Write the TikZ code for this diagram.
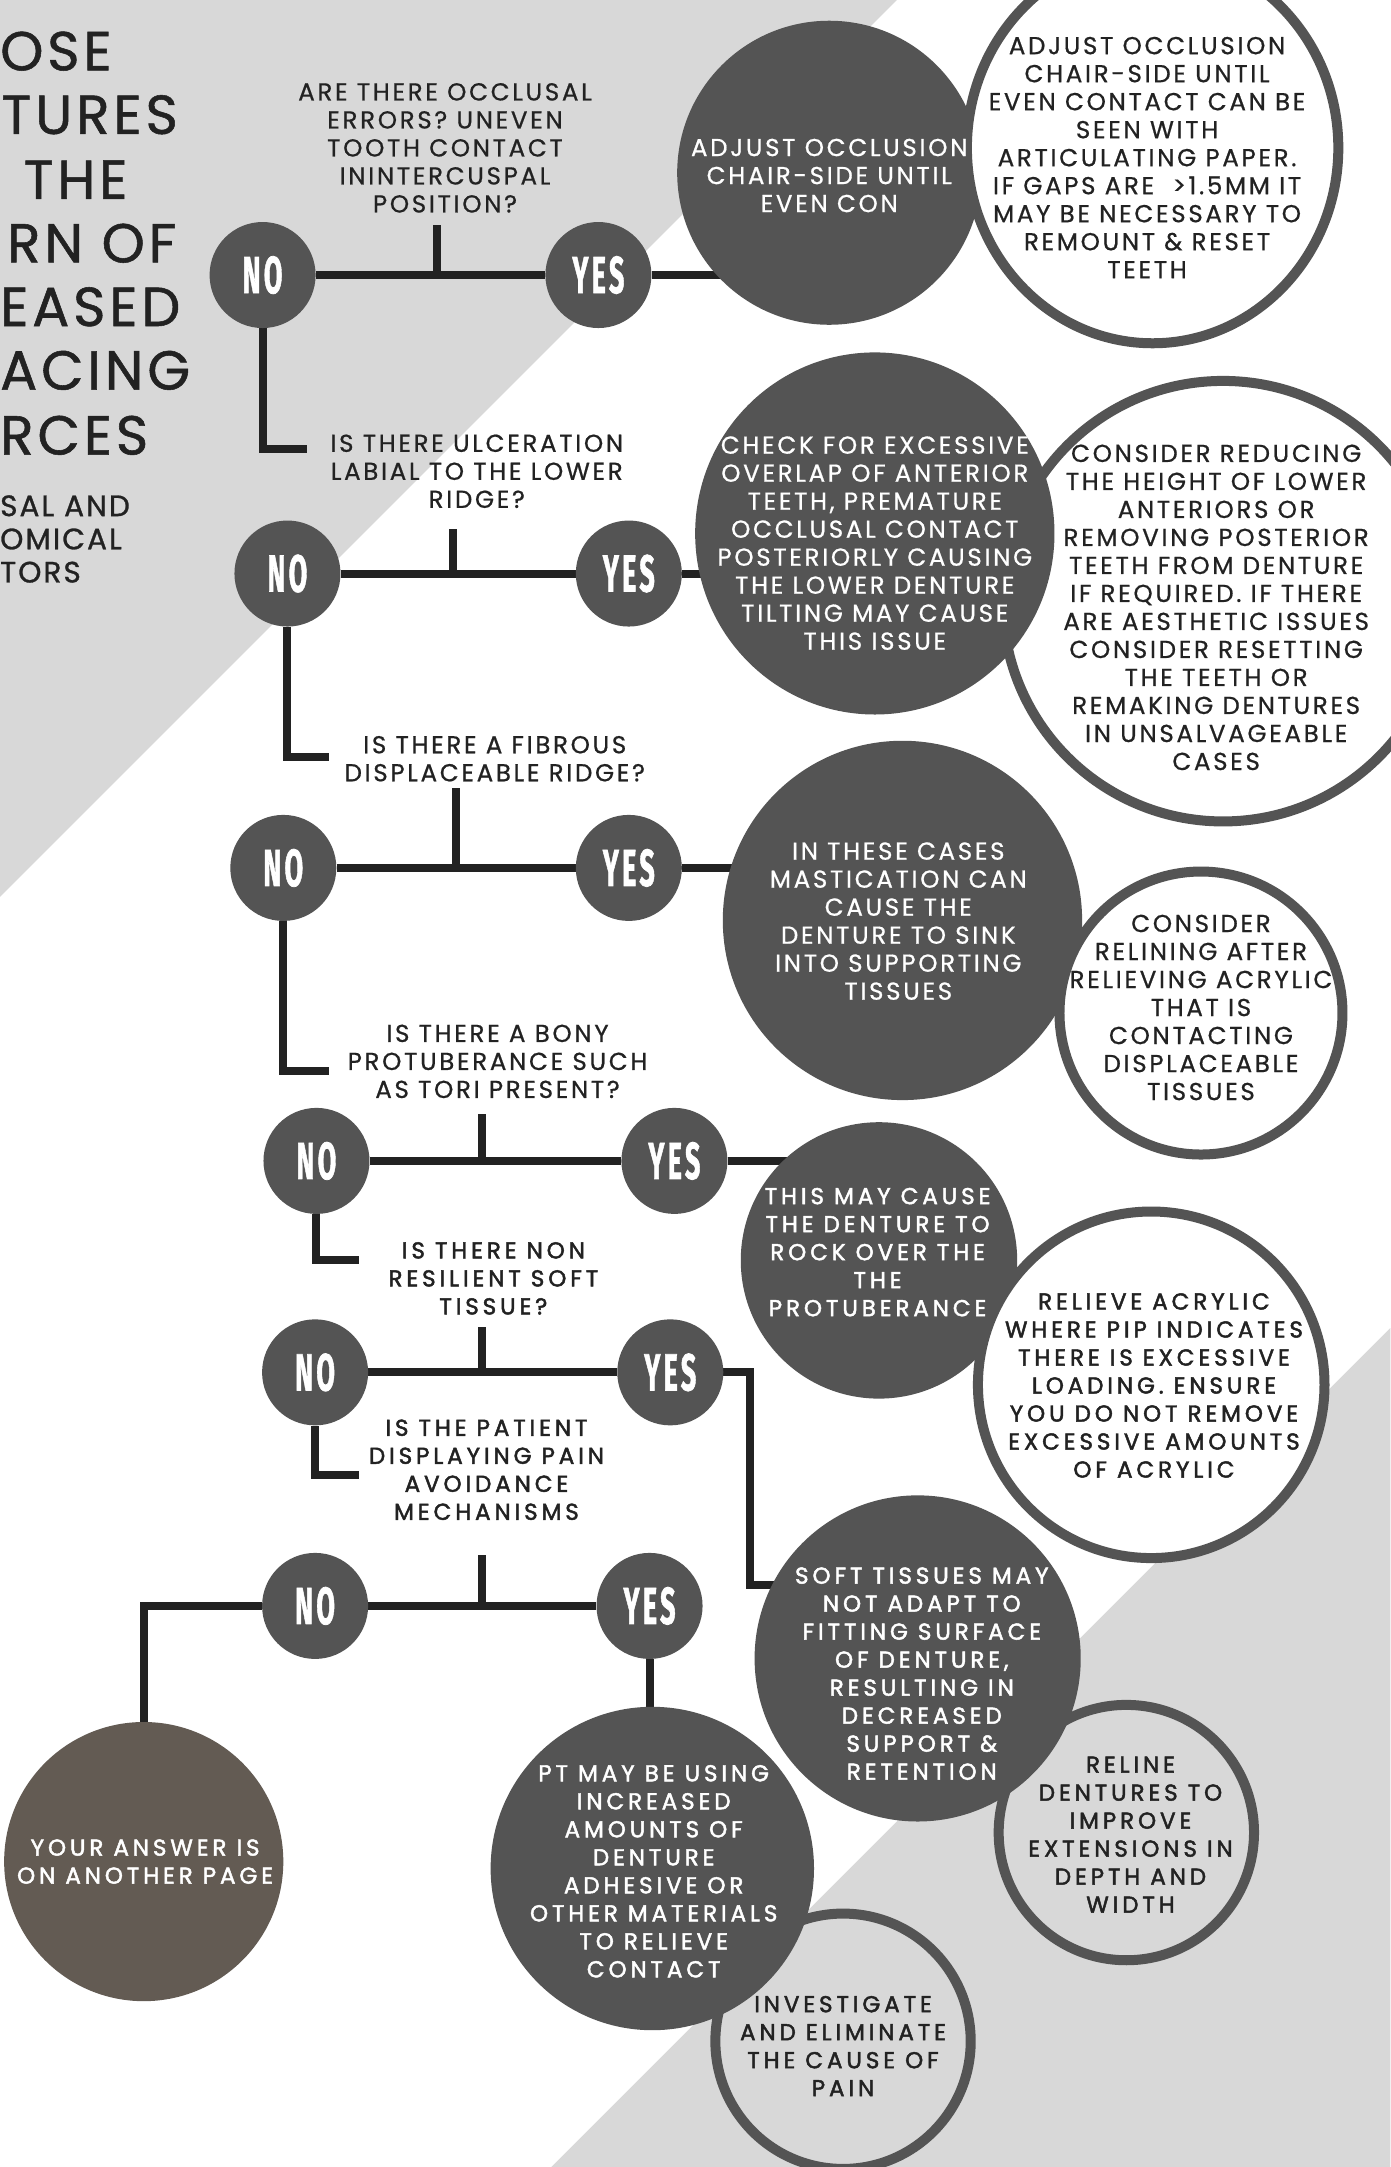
\documentclass[tikz,border=0pt]{standalone}
\usepackage{graphicx}
\usepackage{fontspec}
\setmainfont{Poppins}
\newfontfamily\bodyfont[LetterSpace=11,FakeBold=0.7]{Poppins}
\newfontfamily\heavyfont[LetterSpace=17,FakeBold=2]{Poppins}
\newfontfamily\titlefont[LetterSpace=7,FakeBold=1]{Poppins}
\newfontfamily\choicefont[LetterSpace=12,FakeBold=1.5]{Fira Sans}
\usetikzlibrary{shapes.geometric}
\pgfdeclarelayer{paper}
\pgfdeclarelayer{wires}
\pgfsetlayers{paper,wires,main}

\definecolor{paleground}{HTML}{D8D8D8}
\definecolor{disc}{HTML}{545454}
\definecolor{ink}{HTML}{222222}
\definecolor{umber}{HTML}{635B53}

\newcommand{\choice}[1]{\scalebox{0.52}[1]{\choicefont\bfseries\fontsize{52}{52}\selectfont #1}}

\tikzset{
  choicenode/.style={circle, fill=disc, text=white, inner sep=0pt, minimum size=106pt},
  darkdisc/.style 2 args={ellipse, fill=disc, inner sep=0pt,
    minimum width={2*#1*1.3817pt}, minimum height={2*#2*1.3817pt}},
  ringdisc/.style 2 args={ellipse, draw=disc, line width=10pt, fill=white, inner sep=0pt,
    minimum width={2*#1*1.3817pt-10pt}, minimum height={2*#2*1.3817pt-10pt}},
  asktext/.style={align=center, text=ink, inner sep=0pt,
    font=\bodyfont\fontsize{24.5}{28}\selectfont},
  heavytext/.style={align=center, text=ink, inner sep=0pt,
    font=\heavyfont\fontsize{23}{28}\selectfont},
  headline/.style={anchor=west, text=ink, inner sep=0pt,
    font=\titlefont\fontsize{55}{55}\selectfont},
  subline/.style={anchor=west, text=ink, inner sep=0pt,
    font=\titlefont\fontsize{29.5}{29.5}\selectfont},
  wire/.style={draw=ink, line width=8pt},
}

\begin{document}
\begin{tikzpicture}[x=1.3817pt, y=-1.3817pt]
\useasboundingbox (0,0) rectangle (1006,1568);

% paper with the two pale corner wedges
\begin{pgfonlayer}{paper}
  \fill[white] (0,0) rectangle (1006,1568);
  \fill[paleground] (0,0) -- (649,0) -- (0,649) -- cycle;
  \fill[paleground] (1006,961) -- (1006,1568) -- (399,1568) -- cycle;
\end{pgfonlayer}

% heading, running off the left edge
\node[headline] (h1) at (0,37)  {OSE};
\node[headline] (h2) at (1,83)  {TURES};
\node[headline] (h3) at (17,130) {THE};
\node[headline] (h4) at (5,176) {RN OF};
\node[headline] (h5) at (0,222) {EASED};
\node[headline] (h6) at (0,268) {ACING};
\node[headline] (h7) at (0,315) {RCES};
\node[subline] (s1) at (0,366) {SAL AND};
\node[subline] (s2) at (0,390) {OMICAL};
\node[subline] (s3) at (0,414) {TORS};

% yes / no choices
\node[choicenode] (no1)  at (190,199)  {\choice{NO}};
\node[choicenode] (yes1) at (433,199)  {\choice{YES}};
\node[choicenode] (no2)  at (208,415)  {\choice{NO}};
\node[choicenode] (yes2) at (455,415)  {\choice{YES}};
\node[choicenode] (no3)  at (205,628)  {\choice{NO}};
\node[choicenode] (yes3) at (455,628)  {\choice{YES}};
\node[choicenode] (no4)  at (229,840)  {\choice{NO}};
\node[choicenode] (yes4) at (488,840)  {\choice{YES}};
\node[choicenode] (no5)  at (228,993)  {\choice{NO}};
\node[choicenode] (yes5) at (485,993)  {\choice{YES}};
\node[choicenode] (no6)  at (228,1162) {\choice{NO}};
\node[choicenode] (yes6) at (470,1162) {\choice{YES}};

% outcome discs (dark) and advice rings, in stacking order
\node[darkdisc={110}{110}] (a1) at (600,125) {};
\node[darkdisc={130}{130}] (a3) at (653,666) {};
\node[darkdisc={100}{100}] (a4) at (636,912) {};
\node[ringdisc={138}{145}] (b1) at (834,107) {};
\node[ringdisc={163}{163}] (b2) at (885,435) {};
\node[darkdisc={130}{131}] (a2) at (633,386) {};
\node[ringdisc={106}{106}] (b3) at (869,733) {};
\node[ringdisc={129}{129}] (b4) at (833,1002) {};
\node[ringdisc={96}{96}, fill=paleground] (b5) at (815,1326) {};
\node[ringdisc={96}{96}, fill=paleground] (b6) at (610,1477) {};
\node[darkdisc={118}{118}] (a5) at (664,1200) {};
\node[darkdisc={117}{117}] (a6) at (472,1352) {};
\node[darkdisc={101}{101}, fill=umber] (ans) at (104,1347) {};

% questions
\node[asktext] (q1) at (322,107) {ARE THERE OCCLUSAL\\ERRORS? UNEVEN\\TOOTH CONTACT\\ININTERCUSPAL\\POSITION?};
\node[asktext] (q2) at (345,341) {IS THERE ULCERATION\\LABIAL TO THE LOWER\\RIDGE?};
\node[asktext] (q3) at (358,549) {IS THERE A FIBROUS\\DISPLACEABLE RIDGE?};
\node[asktext] (q4) at (360,768) {IS THERE A BONY\\PROTUBERANCE SUCH\\AS TORI PRESENT?};
\node[heavytext] (q5) at (357,925) {IS THERE NON\\RESILIENT SOFT\\TISSUE?};
\node[heavytext] (q6) at (352,1063.5) {IS THE PATIENT\\DISPLAYING PAIN\\AVOIDANCE\\MECHANISMS};

% texts of the discs
\node[asktext, text=white] (a1t) at (600,127) {ADJUST OCCLUSION\\CHAIR-SIDE UNTIL\\EVEN CON};
\node[asktext] (b1t) at (830,114) {ADJUST OCCLUSION\\CHAIR-SIDE UNTIL\\EVEN CONTACT CAN BE\\SEEN WITH\\ARTICULATING PAPER.\\IF GAPS ARE\ \ >1.5MM IT\\MAY BE NECESSARY TO\\REMOUNT \& RESET\\TEETH};
\node[asktext, text=white] (a2t) at (633,393) {CHECK FOR EXCESSIVE\\OVERLAP OF ANTERIOR\\TEETH, PREMATURE\\OCCLUSAL CONTACT\\POSTERIORLY CAUSING\\THE LOWER DENTURE\\TILTING MAY CAUSE\\THIS ISSUE};
\node[asktext] (b2t) at (880,439.5) {CONSIDER REDUCING\\THE HEIGHT OF LOWER\\ANTERIORS OR\\REMOVING POSTERIOR\\TEETH FROM DENTURE\\IF REQUIRED. IF THERE\\ARE AESTHETIC ISSUES\\CONSIDER RESETTING\\THE TEETH OR\\REMAKING DENTURES\\IN UNSALVAGEABLE\\CASES};
\node[asktext, text=white] (a3t) at (650,666.5) {IN THESE CASES\\MASTICATION CAN\\CAUSE THE\\DENTURE TO SINK\\INTO SUPPORTING\\TISSUES};
\node[asktext] (b3t) at (869,729) {CONSIDER\\RELINING AFTER\\RELIEVING ACRYLIC\\THAT IS\\CONTACTING\\DISPLACEABLE\\TISSUES};
\node[heavytext, text=white] (a4t) at (635,906) {THIS MAY CAUSE\\THE DENTURE TO\\ROCK OVER THE\\THE\\PROTUBERANCE};
\node[heavytext] (b4t) at (835,1002.5) {RELIEVE ACRYLIC\\WHERE PIP INDICATES\\THERE IS EXCESSIVE\\LOADING. ENSURE\\YOU DO NOT REMOVE\\EXCESSIVE AMOUNTS\\OF ACRYLIC};
\node[heavytext, text=white] (a5t) at (667,1211) {SOFT TISSUES MAY\\NOT ADAPT TO\\FITTING SURFACE\\OF DENTURE,\\RESULTING IN\\DECREASED\\SUPPORT \&\\RETENTION};
\node[heavytext] (b5t) at (818,1327.5) {RELINE\\DENTURES TO\\IMPROVE\\EXTENSIONS IN\\DEPTH AND\\WIDTH};
\node[heavytext, text=white] (a6t) at (473,1354) {PT MAY BE USING\\INCREASED\\AMOUNTS OF\\DENTURE\\ADHESIVE OR\\OTHER MATERIALS\\TO RELIEVE\\CONTACT};
\node[heavytext] (b6t) at (610,1480.5) {INVESTIGATE\\AND ELIMINATE\\THE CAUSE OF\\PAIN};
\node[heavytext, text=white] (anst) at (105,1347) {YOUR ANSWER IS\\ON ANOTHER PAGE};

% corner points of the connectors
\coordinate (t1) at (316,199);  \coordinate (t1top) at (316,163);
\coordinate (t2) at (328,415);  \coordinate (t2top) at (328,383);
\coordinate (t3) at (330,628);  \coordinate (t3top) at (330,570);
\coordinate (t4) at (349,840);  \coordinate (t4top) at (349,806);
\coordinate (t5) at (349,993);  \coordinate (t5top) at (349,960);
\coordinate (t6) at (349,1162); \coordinate (t6top) at (349,1125);
\coordinate (e1) at (222,325);
\coordinate (e2) at (238,548);
\coordinate (e3) at (238,775);
\coordinate (e4) at (260,912);
\coordinate (e5) at (260,1067);
\coordinate (k5) at (543,1147);

\begin{pgfonlayer}{wires}
  \draw[wire] (no1.east) -- (yes1.west);
  \draw[wire] (no2.east) -- (yes2.west);
  \draw[wire] (no3.east) -- (yes3.west);
  \draw[wire] (no4.east) -- (yes4.west);
  \draw[wire] (no5.east) -- (yes5.west);
  \draw[wire] (no6.east) -- (yes6.west);
  \draw[wire] (t1) -- (t1top);
  \draw[wire] (t2) -- (t2top);
  \draw[wire] (t3) -- (t3top);
  \draw[wire] (t4) -- (t4top);
  \draw[wire] (t5) -- (t5top);
  \draw[wire] (t6) -- (t6top);
  \draw[wire] (no1.south) |- (e1);
  \draw[wire] (no2.south) |- (e2);
  \draw[wire] (no3.south) |- (e3);
  \draw[wire] (no4.south) |- (e4);
  \draw[wire] (no5.south) |- (e5);
  \draw[wire] (yes1.east) -- (yes1.east -| a1.center);
  \draw[wire] (yes2.east) -- (yes2.east -| a2.center);
  \draw[wire] (yes3.east) -- (yes3.east -| a3.center);
  \draw[wire] (yes4.east) -- (yes4.east -| a4.center);
  \draw[wire] (yes5.east) -| (k5) -- (k5 -| a5.center);
  \draw[wire] (no6.west) -| (ans.north);
  \draw[wire] (yes6.south) -- (yes6.south |- a6.center);
\end{pgfonlayer}
\end{tikzpicture}
\end{document}
